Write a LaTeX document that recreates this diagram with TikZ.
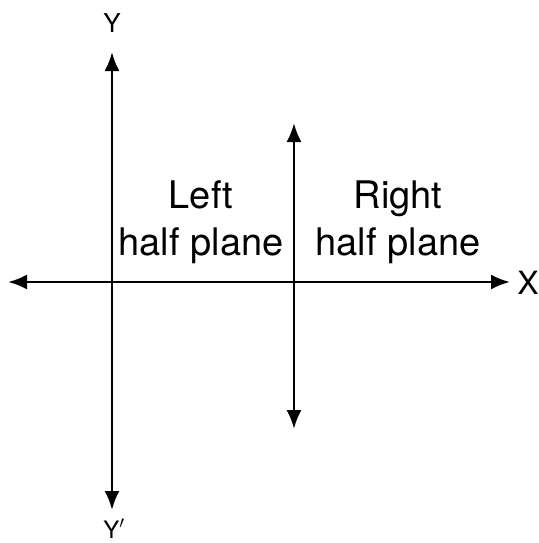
\documentclass[tikz,border=0pt]{standalone}
\usepackage{fontspec}
\setmainfont{TeX Gyre Heros}
\usetikzlibrary{arrows.meta}
\begin{document}
\begin{tikzpicture}[x=1pt,y=-1pt,
  axisboth/.style={line width=2.6pt,{Latex[length=19pt,width=15pt]}-{Latex[length=19pt,width=15pt]}},
  lbl/.style={inner sep=0pt,font=\fontsize{38}{47}\selectfont,align=center},
  axlbl/.style={inner sep=0pt}]
\useasboundingbox (0,0) rectangle (538,543);
\coordinate (ytop) at (112,52);
\coordinate (ybot) at (112,510);
\coordinate (xleft) at (8,282);
\coordinate (xright) at (510,282);
\coordinate (vtop) at (294,123);
\coordinate (vbot) at (294,429);
\draw[axisboth] (ybot) -- (ytop);
\draw[axisboth] (xleft) -- (xright);
\draw[axisboth] (vbot) -- (vtop);
\node[axlbl,font=\fontsize{26}{26}\selectfont] (Y) at (112,23) {Y};
\node[axlbl,font=\fontsize{24}{24}\selectfont,anchor=base] (Yp) at (114,538) {Y$'$};
\node[axlbl,font=\fontsize{32}{32}\selectfont] (X) at (528,283) {X};
\node[lbl,anchor=base] (left1) at (201,208) {Left};
\node[lbl,anchor=base] (left2) at (201,255) {half plane};
\node[lbl,anchor=base] (right1) at (398,208) {Right};
\node[lbl,anchor=base] (right2) at (398,255) {half plane};
\end{tikzpicture}
\end{document}
